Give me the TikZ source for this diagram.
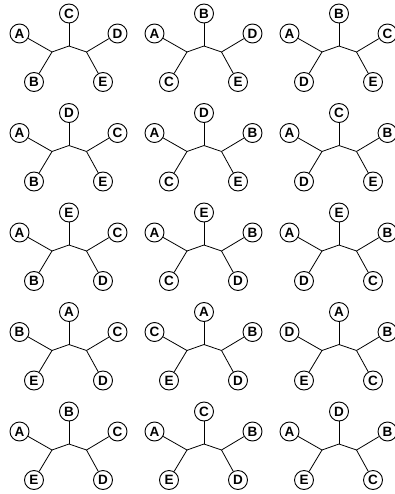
\documentclass[tikz,border=0pt]{standalone}
\usepackage{fontspec}
\setsansfont{Liberation Sans}
\begin{document}
\begin{tikzpicture}[x=1pt, y=-1pt,
    leaf/.style={circle, draw, line width=0.9pt, fill=white, minimum size=19pt, inner sep=0pt,
        font=\fontsize{13.5}{13.5}\selectfont\sffamily\bfseries},
    branch/.style={line width=0.8pt}]
\useasboundingbox (0,0) rectangle (395,494);
% one tree per entry: top / left / right / bottom left / bottom right
\foreach \t/\a/\b/\c/\d [count=\i from 0] in {C/A/D/B/E, B/A/D/C/E, B/A/C/D/E,
    D/A/C/B/E, D/A/B/C/E, C/A/B/D/E,
    E/A/C/B/D, E/A/B/C/D, E/A/B/D/C,
    A/B/C/E/D, A/C/B/E/D, A/D/B/E/C,
    B/A/C/E/D, C/A/B/E/D, D/A/B/E/C} {
    \pgfmathsetmacro{\px}{mod(\i,3)*135}
    \pgfmathsetmacro{\py}{floor(\i/3)*99.5}
    \begin{scope}[shift={(\px,\py)}]
    % inner vertices
    \coordinate (m\i) at (69,46);
    \coordinate (l\i) at (52,52);
    \coordinate (r\i) at (86.5,52);
    % leaves
    \node at (69,13.5) [leaf] (t\i) {\t};
    \node at (19.5,33.5) [leaf] (a\i) {\a};
    \node at (117.5,33.5) [leaf] (b\i) {\b};
    \node at (34,82) [leaf] (c\i) {\c};
    \node at (103,82) [leaf] (d\i) {\d};
    % branches
    \draw[branch] (m\i) -- (t\i);
    \draw[branch] (l\i) -- (m\i) -- (r\i);
    \draw[branch] (l\i) -- (a\i);
    \draw[branch] (l\i) -- (c\i);
    \draw[branch] (r\i) -- (b\i);
    \draw[branch] (r\i) -- (d\i);
    \end{scope}
}
\end{tikzpicture}
\end{document}
